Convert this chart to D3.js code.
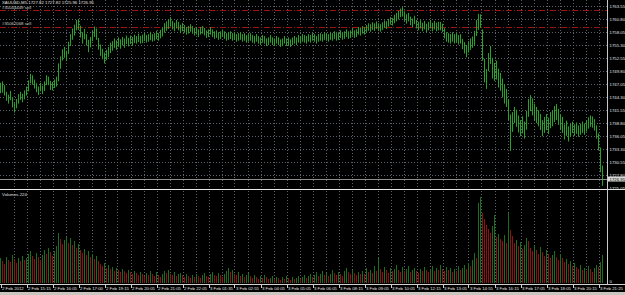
<!DOCTYPE html>
<html>
<head>
<meta charset="utf-8">
<script src="https://cdn.jsdelivr.net/npm/d3@7"></script>
<style>
  html, body { margin: 0; padding: 0; background: #000; overflow: hidden; }
  text { font-family: "Liberation Sans", Arial, sans-serif; }
</style>
</head>
<body>
<div id="chart"></div>
<script>
const symbolTitle = "XAUUSD,M5  1727.82 1727.82 1725.96 1726.95";

// M5 bars, high / low per bar
const highs = [
  1747.3,1747.6,1746.8,1745.4,1744.8,1745.6,1744.2,1743.0,1743.9,1744.9,
  1745.4,1745.0,1745.7,1746.5,1747.8,1749.2,1748.9,1748.0,1747.2,1746.5,
  1747.3,1746.7,1747.6,1748.9,1748.6,1747.7,1747.5,1748.0,1748.6,1751.4,
  1752.9,1754.4,1754.9,1754.1,1756.0,1757.6,1758.8,1759.6,1760.6,1760.8,
  1759.4,1758.0,1758.7,1757.6,1756.4,1757.0,1758.3,1759.2,1758.8,1756.8,
  1755.4,1754.5,1753.7,1754.3,1754.9,1755.8,1756.1,1756.7,1756.3,1756.9,
  1756.5,1757.0,1756.7,1757.3,1756.8,1757.3,1757.0,1757.5,1757.2,1757.7,
  1757.2,1757.5,1757.9,1757.4,1757.6,1758.1,1757.6,1757.8,1758.3,1757.8,
  1758.5,1759.1,1759.9,1760.3,1760.7,1761.2,1760.4,1760.0,1760.6,1760.2,
  1759.6,1760.0,1759.5,1759.1,1759.3,1759.7,1759.3,1758.9,1759.1,1758.6,
  1759.1,1759.3,1758.9,1758.4,1758.6,1759.1,1758.6,1758.2,1758.4,1758.0,
  1758.2,1758.6,1758.2,1757.8,1758.0,1758.2,1757.8,1758.0,1757.6,1757.8,
  1758.0,1757.6,1757.8,1757.4,1757.6,1757.8,1757.4,1757.2,1757.6,1757.2,
  1756.9,1757.4,1757.2,1756.7,1756.9,1757.4,1756.9,1756.7,1757.2,1756.9,
  1756.5,1756.7,1757.2,1756.7,1756.9,1756.5,1756.9,1757.2,1756.9,1757.4,
  1757.2,1757.6,1757.4,1757.2,1757.6,1757.4,1757.8,1757.6,1757.2,1757.6,
  1757.8,1757.6,1758.0,1757.8,1757.6,1758.0,1757.8,1758.2,1757.8,1758.0,
  1758.4,1758.0,1758.2,1758.6,1758.2,1758.4,1758.9,1758.4,1758.6,1759.1,
  1758.9,1759.3,1759.1,1759.5,1759.9,1759.7,1760.1,1759.9,1760.3,1759.9,
  1759.7,1760.1,1760.5,1760.3,1760.8,1761.2,1761.0,1761.7,1762.1,1762.5,
  1763.0,1763.3,1762.4,1761.8,1762.1,1761.3,1760.9,1761.5,1760.6,1760.2,
  1760.6,1760.0,1760.4,1759.8,1760.2,1760.6,1760.0,1760.4,1760.0,1760.2,
  1760.2,1759.8,1758.9,1758.0,1757.8,1757.6,1758.0,1757.6,1757.8,1757.4,
  1757.6,1756.6,1755.9,1755.3,1756.1,1756.7,1757.1,1758.3,1760.6,1761.9,
  1761.8,1758.6,1752.4,1750.2,1753.6,1755.1,1752.6,1751.5,1752.0,1750.3,
  1749.4,1748.2,1746.9,1746.0,1743.8,1740.6,1741.1,1742.2,1741.6,1740.4,
  1739.4,1740.2,1739.1,1741.4,1743.9,1744.7,1744.0,1742.9,1742.2,1741.5,
  1740.7,1739.4,1740.1,1740.7,1739.9,1741.1,1741.5,1742.4,1742.8,1741.8,
  1740.7,1740.1,1738.5,1739.3,1738.1,1738.7,1739.1,1738.5,1738.9,1738.3,
  1738.7,1739.1,1738.7,1739.4,1740.0,1740.4,1740.2,1739.6,1738.3,1736.6,
  1733.6,1729.8
];
const lows = [
  1745.1,1745.2,1744.6,1743.5,1742.9,1743.6,1742.1,1741.0,1741.9,1742.9,
  1743.7,1743.2,1743.8,1744.6,1745.5,1747.2,1746.9,1746.1,1745.3,1744.7,
  1745.5,1744.9,1745.6,1746.8,1746.8,1745.8,1745.7,1746.2,1746.5,1747.6,
  1750.3,1752.0,1752.6,1751.9,1753.4,1755.1,1756.4,1757.3,1758.4,1758.5,
  1756.9,1755.6,1756.5,1755.2,1753.8,1754.8,1756.1,1757.0,1756.4,1754.3,
  1753.0,1752.3,1751.4,1752.1,1752.7,1753.6,1754.1,1754.7,1754.3,1754.9,
  1754.5,1755.2,1754.7,1755.5,1755.0,1755.5,1755.2,1755.7,1755.6,1755.9,
  1755.6,1755.7,1756.1,1755.8,1756.0,1756.3,1756.0,1756.2,1756.5,1756.2,
  1756.7,1757.1,1757.9,1758.3,1758.7,1759.2,1758.6,1758.2,1758.8,1758.4,
  1757.8,1758.2,1757.9,1757.5,1757.7,1758.1,1757.7,1757.3,1757.5,1757.0,
  1757.5,1757.7,1757.3,1756.8,1757.0,1757.5,1757.0,1756.6,1756.8,1756.4,
  1756.6,1757.0,1756.6,1756.2,1756.4,1756.6,1756.2,1756.4,1756.0,1756.2,
  1756.4,1756.0,1756.2,1755.8,1756.0,1756.2,1755.8,1755.6,1756.0,1755.6,
  1755.3,1755.8,1755.6,1755.1,1755.3,1755.8,1755.3,1755.1,1755.6,1755.3,
  1754.9,1755.1,1755.6,1755.1,1755.3,1754.9,1755.3,1755.6,1755.3,1755.8,
  1755.6,1756.0,1755.8,1755.6,1756.0,1755.8,1756.2,1756.0,1755.6,1756.0,
  1756.2,1756.0,1756.4,1756.2,1756.0,1756.4,1756.2,1756.6,1756.2,1756.4,
  1756.8,1756.4,1756.6,1757.0,1756.6,1756.8,1757.3,1756.8,1757.0,1757.5,
  1757.3,1757.7,1757.5,1757.9,1758.3,1758.1,1758.5,1758.3,1758.7,1758.3,
  1758.1,1758.5,1758.9,1758.7,1759.2,1759.6,1759.4,1759.9,1760.3,1760.7,
  1761.2,1761.3,1760.4,1759.8,1760.3,1759.5,1759.1,1759.7,1758.8,1758.4,
  1758.8,1758.2,1758.6,1758.0,1758.4,1758.8,1758.2,1758.6,1758.2,1758.4,
  1758.4,1758.0,1756.7,1756.0,1755.8,1755.6,1756.0,1755.6,1755.8,1755.4,
  1755.6,1754.4,1753.5,1752.7,1753.7,1754.3,1754.7,1755.3,1757.2,1758.5,
  1758.9,1752.0,1747.4,1746.0,1749.8,1751.3,1748.2,1747.7,1748.0,1746.3,
  1745.6,1744.2,1742.9,1742.2,1739.4,1732.9,1736.9,1738.8,1738.0,1736.8,
  1736.0,1736.6,1735.5,1737.4,1740.1,1741.3,1740.4,1739.3,1738.8,1738.1,
  1737.3,1736.0,1736.7,1737.3,1736.5,1737.7,1738.1,1739.0,1739.4,1738.4,
  1737.3,1736.7,1735.3,1736.1,1734.9,1735.9,1736.7,1736.1,1736.5,1735.9,
  1736.3,1736.7,1736.3,1737.0,1737.6,1738.0,1737.8,1737.2,1735.5,1733.0,
  1728.4,1725.5
];
const volumes = [
  200,176,152,208,184,168,224,192,160,200,176,216,184,200,232,
  256,216,192,240,208,184,224,264,232,280,248,216,256,
  296,400,352,312,344,368,320,360,304,336,280,312,264,
  240,272,224,256,208,232,192,216,176,152,
  136,160,120,144,112,128,96,120,104,88,112,96,80,104,88,
  72,96,80,64,88,72,56,80,64,96,72,56,88,64,48,72,96,80,104,72,64,88,56,72,80,
  64,48,72,56,40,64,48,72,56,40,64,80,56,48,72,88,64,56,80,64,48,72,96,120,88,104,72,64,88,56,
  72,48,64,80,56,40,64,48,32,56,40,64,48,32,40,56,32,48,40,24,48,32,56,40,24,48,32,40,56,32,
  48,64,40,56,72,48,64,88,56,72,96,64,80,56,72,104,80,64,88,72,56,96,120,88,72,104,80,64,88,72,
  96,72,120,88,104,80,136,96,200,112,88,128,104,80,120,96,112,144,104,88,128,96,112,136,88,104,120,96,80,112,
  96,128,104,88,112,136,96,120,104,144,112,96,128,104,120,88,112,96,136,104,120,144,112,160,136,184,
  240,200,640,688,
  560,512,464,432,400,456,544,368,392,352,336,384,320,560,424,
  376,320,344,296,328,272,304,360,336,280,256,304,264,232,288,248,216,264,232,200,
  224,256,208,184,232,200,168,192,152,176,136,160,128,112,144,104,120,96,136,112,
  88,120,144,128,168,224
];

const priceLabels = [1763.55, 1760.80, 1758.05, 1755.30, 1752.55, 1749.80, 1747.05,
  1744.30, 1741.55, 1738.80, 1736.05, 1733.30, 1730.55, 1727.80, 1725.05];
const timeLabels = ["2 Feb 2012", "2 Feb 15:15", "2 Feb 16:05", "2 Feb 17:00", "2 Feb 19:15",
  "2 Feb 20:05", "2 Feb 21:05", "2 Feb 22:05", "3 Feb 01:35", "3 Feb 02:55", "3 Feb 04:05",
  "3 Feb 05:05", "3 Feb 06:05", "3 Feb 08:15", "3 Feb 09:05", "3 Feb 10:05", "3 Feb 12:15",
  "3 Feb 13:05", "3 Feb 14:55", "3 Feb 16:15", "3 Feb 17:05", "3 Feb 18:05", "3 Feb 20:15",
  "3 Feb 21:25"];
const barsPerLabel = 13;
const orderLabels = ["#35044449 sell", "#35062068 sell"];
const orderPrices = [1762.60, 1759.20];
const bidPrice = 1726.95;

const width = 625, height = 295;
const plotRight = 607;
const mainBottom = 188;
const volTop = 191, volBottom = 283;
const fs = "4.3px";

const svg = d3.select("#chart").append("svg")
  .attr("width", width)
  .attr("height", height)
  .style("background", "#000")
  .style("display", "block");

const x = d3.scaleLinear().domain([0, highs.length - 1]).range([0.5, 0.5 + 2 * (highs.length - 1)]);
const y = d3.scaleLinear().domain([1725.05, 1763.55]).range([188, 6]);
const yv = d3.scaleLinear().domain([0, 736]).range([volBottom, volTop]);
const snap = v => Math.round(v) + 0.5;

const gridColor = "#5a626b";

// grid: horizontal in price pane
svg.append("g").selectAll("line")
  .data(priceLabels.slice(0, -1))
  .join("line")
  .attr("x1", 0).attr("x2", plotRight)
  .attr("y1", d => snap(y(d))).attr("y2", d => snap(y(d)))
  .attr("stroke", gridColor).attr("stroke-dasharray", "1,2");

// grid: vertical, both panes
const vIdx = d3.range(barsPerLabel / 2, highs.length, barsPerLabel / 2);
const vg = svg.append("g");
vg.selectAll("line.a").data(vIdx).join("line").attr("class", "a")
  .attr("x1", d => snap(x(d))).attr("x2", d => snap(x(d)))
  .attr("y1", 0).attr("y2", mainBottom)
  .attr("stroke", gridColor).attr("stroke-dasharray", "1,2");
vg.selectAll("line.b").data(vIdx).join("line").attr("class", "b")
  .attr("x1", d => snap(x(d))).attr("x2", d => snap(x(d)))
  .attr("y1", volTop).attr("y2", volBottom)
  .attr("stroke", gridColor).attr("stroke-dasharray", "1,2");

// order lines
svg.append("g").selectAll("line")
  .data(orderPrices)
  .join("line")
  .attr("x1", 0).attr("x2", plotRight)
  .attr("y1", d => snap(y(d))).attr("y2", d => snap(y(d)))
  .attr("stroke", "#9a1414").attr("stroke-dasharray", "6,2,1,2");
svg.append("g").selectAll("text")
  .data(orderLabels)
  .join("text")
  .attr("x", 2)
  .attr("y", (d, i) => y(orderPrices[i]) - 1.5)
  .attr("fill", "#d0d0d0").attr("font-size", fs)
  .text(d => d);

// price bars
svg.append("g").selectAll("line")
  .data(highs)
  .join("line")
  .attr("x1", (d, i) => x(i)).attr("x2", (d, i) => x(i))
  .attr("y1", d => y(d))
  .attr("y2", (d, i) => y(lows[i]))
  .attr("stroke", "#27a327").attr("stroke-width", 1);

// bid line
svg.append("line")
  .attr("x1", 0).attr("x2", plotRight)
  .attr("y1", snap(y(bidPrice))).attr("y2", snap(y(bidPrice)))
  .attr("stroke", "#8c8c8c");

// volumes: green when higher than previous bar
svg.append("g").selectAll("line")
  .data(volumes)
  .join("line")
  .attr("x1", (d, i) => x(i)).attr("x2", (d, i) => x(i))
  .attr("y1", yv(0))
  .attr("y2", d => yv(d))
  .attr("stroke", (d, i) => (i === 0 || d > volumes[i - 1]) ? "#1c6e1c" : "#8c1414");

// title texts
svg.append("text").attr("x", 2).attr("y", 4)
  .attr("fill", "#e0e0e0").attr("font-size", fs).text(symbolTitle);
svg.append("text").attr("x", 2).attr("y", volTop + 5)
  .attr("fill", "#e0e0e0").attr("font-size", fs)
  .text("Volumes " + volumes[volumes.length - 1]);

// pane separator
svg.append("line").attr("x1", 0).attr("x2", width)
  .attr("y1", 189.5).attr("y2", 189.5).attr("stroke", "#e8e8e8");

// price axis
svg.append("line").attr("x1", plotRight + 0.5).attr("x2", plotRight + 0.5)
  .attr("y1", 0).attr("y2", volBottom + 1).attr("stroke", "#c8c8c8");
svg.append("g").selectAll("text")
  .data(priceLabels)
  .join("text")
  .attr("x", plotRight + 2.5)
  .attr("y", d => y(d) + 1.5)
  .attr("fill", "#e0e0e0").attr("font-size", fs)
  .text(d => d.toFixed(2));
svg.append("rect")
  .attr("x", plotRight + 1).attr("y", y(bidPrice) - 2.5)
  .attr("width", width - plotRight - 1).attr("height", 5)
  .attr("fill", "#d8d8d8");
svg.append("text")
  .attr("x", plotRight + 2.5).attr("y", y(bidPrice) + 1.6)
  .attr("fill", "#000").attr("font-size", fs)
  .text(bidPrice.toFixed(2));
svg.append("text").attr("x", plotRight + 2.5).attr("y", volBottom)
  .attr("fill", "#e0e0e0").attr("font-size", fs).text("0");

// time axis
svg.append("line").attr("x1", 0).attr("x2", width)
  .attr("y1", 284.5).attr("y2", 284.5).attr("stroke", "#d0d0d0");
const tg = svg.append("g");
tg.selectAll("line").data(timeLabels).join("line")
  .attr("x1", (d, i) => snap(x(i * barsPerLabel))).attr("x2", (d, i) => snap(x(i * barsPerLabel)))
  .attr("y1", 284).attr("y2", 288)
  .attr("stroke", "#d0d0d0");
tg.selectAll("text").data(timeLabels).join("text")
  .attr("x", (d, i) => x(i * barsPerLabel) + 1.5)
  .attr("y", 290)
  .attr("fill", "#e0e0e0").attr("font-size", fs)
  .text(d => d);

// window tab strip
svg.append("rect").attr("x", 0).attr("y", 292).attr("width", width).attr("height", 3)
  .attr("fill", "#c9c6bf");
</script>
</body>
</html>
